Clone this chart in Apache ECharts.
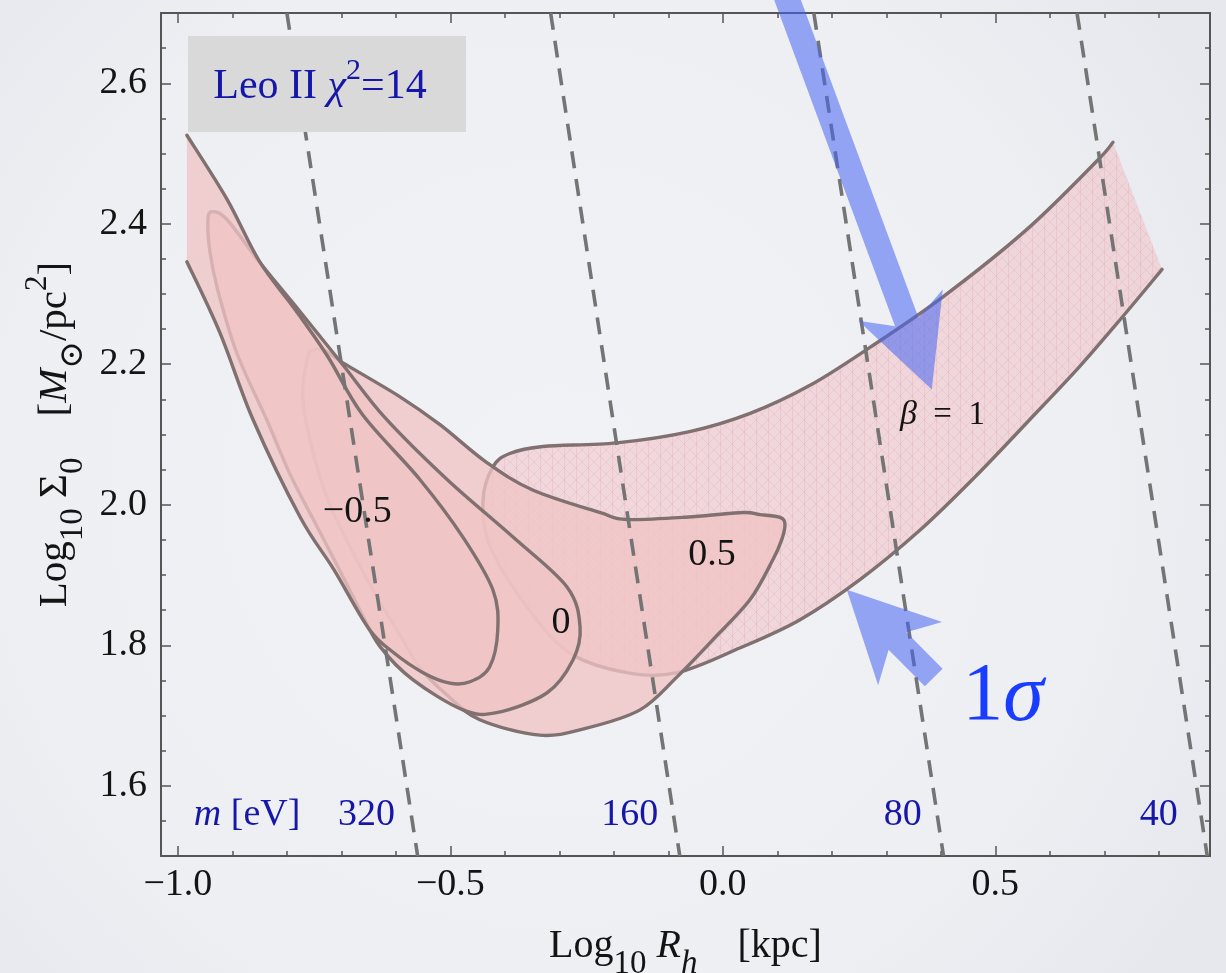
<!DOCTYPE html>
<html>
<head>
<meta charset="utf-8">
<script src="https://cdn.jsdelivr.net/npm/echarts@6/dist/echarts.min.js"></script>
<style>
  html, body { margin: 0; padding: 0; background: #eef0f4; }
  #chart { width: 1226px; height: 973px; }
</style>
</head>
<body>
<div id="chart"></div>
<script>
// ---- axes ----
const xMin = -1.031, xMax = 0.894;
const yMin = 1.5, yMax = 2.7;
const xMajorTicks = [-1.0, -0.5, 0.0, 0.5];
const xMinorTicks = [-1.0, -0.9, -0.8, -0.7, -0.6, -0.5, -0.4, -0.3, -0.2, -0.1, 0.0, 0.1, 0.2, 0.3, 0.4, 0.5, 0.6, 0.7, 0.8];
const yMajorTicks = [1.6, 1.8, 2.0, 2.2, 2.4, 2.6];
const yMinorTicks = [1.55, 1.6, 1.65, 1.7, 1.75, 1.8, 1.85, 1.9, 1.95, 2.0, 2.05, 2.1, 2.15, 2.2, 2.25, 2.3, 2.35, 2.4, 2.45, 2.5, 2.55, 2.6, 2.65];

// ---- 1σ regions in (log10 Rh, log10 Σ0), one per anisotropy β ----
// β = 1 : open along its right-hand cut (first and last point)
const regionBetaOne = [
  [0.806, 2.335], [0.734, 2.268], [0.655, 2.197], [0.563, 2.121], [0.462, 2.039],
  [0.362, 1.964], [0.251, 1.893], [0.141, 1.836], [0.031, 1.796], [-0.084, 1.761],
  [-0.176, 1.761], [-0.281, 1.789], [-0.360, 1.855], [-0.428, 1.943], [-0.440, 2.007],
  [-0.422, 2.054], [-0.391, 2.073], [-0.330, 2.083], [-0.195, 2.088], [-0.061, 2.104],
  [0.050, 2.130], [0.160, 2.170], [0.270, 2.224], [0.404, 2.296], [0.558, 2.392],
  [0.686, 2.489], [0.716, 2.516]
];
const regionBetaHalf = [
  [-0.763, 2.207], [-0.754, 2.220], [-0.730, 2.219], [-0.697, 2.202], [-0.593, 2.154],
  [-0.519, 2.114], [-0.433, 2.060], [-0.349, 2.021], [-0.226, 1.989], [-0.176, 1.979],
  [-0.055, 1.983], [0.037, 1.989], [0.068, 1.986], [0.105, 1.982], [0.114, 1.972],
  [0.108, 1.950], [0.092, 1.922], [0.050, 1.865], [-0.018, 1.808], [-0.084, 1.755],
  [-0.152, 1.708], [-0.250, 1.682], [-0.336, 1.672], [-0.446, 1.694], [-0.506, 1.729],
  [-0.556, 1.768], [-0.593, 1.815], [-0.635, 1.869], [-0.684, 1.940], [-0.727, 2.011],
  [-0.758, 2.093], [-0.771, 2.154]
];
const regionBetaZero = [
  [-0.945, 2.403], [-0.938, 2.417], [-0.910, 2.406], [-0.850, 2.345], [-0.776, 2.275],
  [-0.697, 2.199], [-0.620, 2.124], [-0.506, 2.036], [-0.385, 1.954], [-0.286, 1.883],
  [-0.262, 1.826], [-0.275, 1.779], [-0.323, 1.732], [-0.415, 1.704], [-0.477, 1.708],
  [-0.569, 1.751], [-0.629, 1.798], [-0.664, 1.847], [-0.700, 1.902], [-0.744, 1.968],
  [-0.794, 2.043], [-0.837, 2.121], [-0.892, 2.216], [-0.927, 2.306], [-0.941, 2.359]
];
// β = −0.5 : open along the left cut of the scan
const regionBetaMinusHalf = [
  [-0.9835, 2.526], [-0.910, 2.435], [-0.850, 2.346], [-0.785, 2.278], [-0.725, 2.211],
  [-0.661, 2.128], [-0.556, 2.036], [-0.477, 1.954], [-0.422, 1.879], [-0.413, 1.822],
  [-0.428, 1.769], [-0.464, 1.748], [-0.501, 1.746], [-0.550, 1.761], [-0.605, 1.790],
  [-0.650, 1.824], [-0.714, 1.908], [-0.776, 1.983], [-0.862, 2.121], [-0.923, 2.245],
  [-0.9835, 2.346]
];

// ---- lines of constant particle mass m [eV] ----
const massValues = ['320', '160', '80', '40'];
const massLineTopX = [-0.800, -0.316, 0.167, 0.650];     // at log Σ0 = 2.7
const massLineBottomX = [-0.560, -0.079, 0.405, 0.889];  // at log Σ0 = 1.5
const massLabelX = [-0.654, -0.171, 0.330, 0.800];
const massLabelY = 1.558;
const massUnitX = -0.873;

// ---- contour labels ----
const betaLabels = ['\u22120.5', '0', '0.5', '{g|\u03b2}{t|  =  1}'];
const betaLabelX = [-0.671, -0.297, -0.020, 0.403];
const betaLabelY = [1.990, 1.831, 1.928, 2.128];
const sigmaLabel = [0.514, 1.725];

// ---- pointer arrows: tail and tip ----
const arrowTail = [[0.108, 2.741], [0.387, 1.754]];
const arrowTip = [[0.3835, 2.164], [0.2275, 1.879]];

// ---- styling ----
const FONT = "'Liberation Serif', 'Times New Roman', 'DejaVu Serif', serif";
const INK = '#141414';
const AXIS = '#555555';
const EDGE = 'rgb(128,112,112)';
const NAVY = '#1616a8';
const BRIGHT = '#1a3cff';
const REGION_FILL = 'rgba(240,196,196,0.78)';
const BAND_FILL = 'rgba(240,190,195,0.5)';

const fmt = v => (v < 0 ? '\u2212' : '') + Math.abs(v).toFixed(1);

// faint triangular mesh laid over the β = 1 band
function meshTile() {
  const c = document.createElement('canvas');
  c.width = 12; c.height = 12;
  const g = c.getContext('2d');
  g.strokeStyle = 'rgba(228,150,160,0.22)';
  g.lineWidth = 1;
  g.beginPath();
  g.moveTo(0.5, 0); g.lineTo(0.5, 12);
  g.moveTo(0, 0); g.lineTo(12, 12);
  g.moveTo(12, 0); g.lineTo(0, 12);
  g.stroke();
  return c;
}
const MESH = { image: meshTile(), repeat: 'repeat' };

function xAxisDef(position, ticks, len, line, labels) {
  return {
    type: 'value', position, min: xMin, max: xMax,
    axisLine: { show: line, onZero: false, lineStyle: { color: AXIS, width: 2 } },
    axisTick: { show: true, inside: true, length: len, customValues: ticks, lineStyle: { color: AXIS, width: 1.5 } },
    axisLabel: labels ? {
      show: true, customValues: xMajorTicks, formatter: fmt, margin: 10,
      fontFamily: FONT, fontSize: 38, color: INK
    } : { show: false },
    splitLine: { show: false }, minorTick: { show: false }, minorSplitLine: { show: false }
  };
}
function yAxisDef(position, ticks, len, line, labels) {
  return {
    type: 'value', position, min: yMin, max: yMax,
    axisLine: { show: line, onZero: false, lineStyle: { color: AXIS, width: 2 } },
    axisTick: { show: true, inside: true, length: len, customValues: ticks, lineStyle: { color: AXIS, width: 1.5 } },
    axisLabel: labels ? {
      show: true, customValues: yMajorTicks, formatter: fmt, margin: 14,
      padding: [0, 0, 8, 0],
      fontFamily: FONT, fontSize: 38, color: INK
    } : { show: false },
    splitLine: { show: false }, minorTick: { show: false }, minorSplitLine: { show: false }
  };
}

// rich styles for axis titles: subscripts pushed down, superscripts up, via padding
function titleRich(size, sub) {
  return {
    m: { fontFamily: FONT, fontSize: size, lineHeight: 44, verticalAlign: 'middle', color: INK },
    i: { fontFamily: FONT, fontSize: size, lineHeight: 44, verticalAlign: 'middle', fontStyle: 'italic', color: INK },
    s: { fontFamily: FONT, fontSize: sub, lineHeight: 12, verticalAlign: 'middle', padding: [36, 0, 0, 0], color: INK },
    si: { fontFamily: FONT, fontSize: sub, lineHeight: 12, verticalAlign: 'middle', padding: [36, 0, 0, 0], fontStyle: 'italic', color: INK },
    sup: { fontFamily: FONT, fontSize: sub - 2, lineHeight: 12, verticalAlign: 'middle', padding: [0, 0, 34, 0], color: INK }
  };
}

const xAxes = [
  xAxisDef('bottom', xMajorTicks, 10, true, true),
  xAxisDef('bottom', xMinorTicks, 5, false, false),
  xAxisDef('top', xMajorTicks, 10, true, false),
  xAxisDef('top', xMinorTicks, 5, false, false)
];
Object.assign(xAxes[0], {
  name: '{m|Log}{s|10}{i| R}{si|h}{m|    [kpc]}',
  nameLocation: 'middle', nameGap: 68, nameMoveOverlap: false,
  nameTextStyle: { rich: titleRich(40, 33), fontFamily: FONT, fontSize: 40, color: INK }
});
const yAxes = [
  yAxisDef('left', yMajorTicks, 10, true, true),
  yAxisDef('left', yMinorTicks, 5, false, false),
  yAxisDef('right', yMajorTicks, 10, true, false),
  yAxisDef('right', yMinorTicks, 5, false, false)
];
Object.assign(yAxes[0], {
  name: '{m|Log}{s|10}{m| \u03a3}{s|0}{m|    [}{i|M}{s|\u2299}{m|/pc}{sup|2}{m|]}',
  nameLocation: 'middle', nameGap: 84, nameRotate: 90, nameMoveOverlap: false,
  nameTextStyle: { rich: titleRich(41, 33), fontFamily: FONT, fontSize: 41, color: INK }
});

// Catmull-Rom spline through pixel points, written as an SVG path
function splinePath(pts, closed) {
  const n = pts.length;
  const get = i => closed ? pts[(i + n) % n] : pts[Math.max(0, Math.min(n - 1, i))];
  let d = 'M' + pts[0][0].toFixed(2) + ' ' + pts[0][1].toFixed(2);
  const segs = closed ? n : n - 1;
  for (let i = 0; i < segs; i++) {
    const p0 = get(i - 1), p1 = get(i), p2 = get(i + 1), p3 = get(i + 2);
    const c1x = p1[0] + (p2[0] - p0[0]) / 6, c1y = p1[1] + (p2[1] - p0[1]) / 6;
    const c2x = p2[0] - (p3[0] - p1[0]) / 6, c2y = p2[1] - (p3[1] - p1[1]) / 6;
    d += ' C' + [c1x, c1y, c2x, c2y, p2[0], p2[1]].map(v => v.toFixed(2)).join(' ');
  }
  return d;
}

// region: translucent fill plus outline (open outlines leave the scan cut unstroked)
function regionSeries(points, fill, closed, z, mesh) {
  return {
    type: 'custom', z, clip: true, silent: true,
    xAxisIndex: 0, yAxisIndex: 0,
    data: points, encode: { x: 0, y: 1 },
    renderItem(params, api) {
      if (params.dataIndex !== 0) return null;
      const pts = points.map(p => api.coord(p));
      const curve = splinePath(pts, closed);
      const children = [
        { type: 'path', shape: { pathData: curve + ' Z' }, style: { fill, stroke: null } }
      ];
      if (mesh) {
        children.push({ type: 'path', shape: { pathData: curve + ' Z' }, style: { fill: MESH, stroke: null } });
      }
      children.push({
        type: 'path', shape: { pathData: closed ? curve + ' Z' : curve },
        style: { fill: null, stroke: EDGE, lineWidth: 3.4, lineJoin: 'round', lineCap: 'round' }
      });
      return { type: 'group', children };
    }
  };
}

const massLineSeries = massValues.map((m, i) => ({
  type: 'line', name: 'm = ' + m + ' eV', z: 10, silent: true, symbol: 'none',
  xAxisIndex: 0, yAxisIndex: 0,
  data: [[massLineTopX[i], yMax], [massLineBottomX[i], yMin]],
  lineStyle: { color: '#747474', width: 3.6, type: [17, 11] }
}));

function textSeries(items, baseStyle, rich, z) {
  return {
    type: 'custom', z, silent: true, clip: false,
    xAxisIndex: 0, yAxisIndex: 0,
    data: items.map(it => [it[0], it[1]]),
    renderItem(params, api) {
      const p = api.coord([api.value(0), api.value(1)]);
      return {
        type: 'text', x: p[0], y: p[1],
        style: Object.assign({
          text: items[params.dataIndex][2], rich,
          align: 'center', verticalAlign: 'middle', fontFamily: FONT
        }, baseStyle)
      };
    }
  };
}

const arrowSeries = {
  type: 'custom', z: 30, silent: true, clip: false,
  xAxisIndex: 0, yAxisIndex: 0,
  data: arrowTip.map((t, i) => [arrowTail[i][0], arrowTail[i][1], t[0], t[1]]),
  encode: { x: [0, 2], y: [1, 3] },
  renderItem(params, api) {
    const tail = api.coord([api.value(0), api.value(1)]);
    const tip = api.coord([api.value(2), api.value(3)]);
    const dx = tail[0] - tip[0], dy = tail[1] - tip[1];
    const L = Math.hypot(dx, dy);
    const ux = dx / L, uy = dy / L, nx = uy, ny = -ux;
    const headLen = 90, headHalf = 45, notch = 72, shaftHalf = 12.5;
    const at = (a, b) => [tip[0] + ux * a + nx * b, tip[1] + uy * a + ny * b];
    return {
      type: 'polygon',
      shape: { points: [at(0, 0), at(headLen, headHalf), at(notch, shaftHalf), at(L, shaftHalf),
                        at(L, -shaftHalf), at(notch, -shaftHalf), at(headLen, -headHalf)] },
      style: { fill: 'rgba(70,100,240,0.55)' }
    };
  }
};

const option = {
  animation: false,
  backgroundColor: {
    type: 'radial', x: 0.45, y: 0.5, r: 0.8,
    colorStops: [
      { offset: 0, color: '#f1f2f6' },
      { offset: 0.7, color: '#edeff3' },
      { offset: 1, color: '#e6e8ed' }
    ]
  },
  grid: { left: 161, right: 16, top: 13, bottom: 117, containLabel: false, outerBoundsMode: 'none' },
  xAxis: xAxes,
  yAxis: yAxes,
  graphic: [
    { type: 'rect', left: 188, top: 36, z: 40, shape: { width: 278, height: 96 }, style: { fill: '#d9d9d9' } },
    {
      type: 'text', x: 320, y: 87, z: 41,
      style: {
        text: '{n|Leo II }{g|\u03c7}{sup|2}{n|=14}',
        align: 'center', verticalAlign: 'middle', fill: NAVY,
        rich: {
          n: { fontFamily: FONT, fontSize: 42, lineHeight: 46, verticalAlign: 'middle', fill: NAVY },
          g: { fontFamily: FONT, fontSize: 42, lineHeight: 46, verticalAlign: 'middle', fontStyle: 'italic', fill: NAVY },
          sup: { fontFamily: FONT, fontSize: 30, lineHeight: 12, verticalAlign: 'middle', padding: [0, 0, 32, 0], fill: NAVY }
        }
      }
    }
  ],
  series: [
    regionSeries(regionBetaOne, BAND_FILL, false, 2, true),
    regionSeries(regionBetaHalf, REGION_FILL, true, 3, false),
    regionSeries(regionBetaZero, REGION_FILL, true, 4, false),
    regionSeries(regionBetaMinusHalf, REGION_FILL, false, 5, false),
    ...massLineSeries,
    textSeries(betaLabels.slice(0, 3).map((t, i) => [betaLabelX[i], betaLabelY[i], t]),
      { fontSize: 38, fill: INK }, {}, 20),
    textSeries([[betaLabelX[3], betaLabelY[3], betaLabels[3]]],
      { fontSize: 32, fill: INK },
      {
        g: { fontFamily: FONT, fontSize: 34, fontStyle: 'italic', fill: INK },
        t: { fontFamily: FONT, fontSize: 33, fill: INK }
      }, 20),
    textSeries(massValues.map((t, i) => [massLabelX[i], massLabelY, t])
      .concat([[massUnitX, massLabelY, '{g|m}{t| [eV]}']]),
      { fontSize: 38, fill: NAVY },
      {
        g: { fontFamily: FONT, fontSize: 38, fontStyle: 'italic', fill: NAVY },
        t: { fontFamily: FONT, fontSize: 38, fill: NAVY }
      }, 20),
    textSeries([[sigmaLabel[0], sigmaLabel[1], '{t|1}{g|\u03c3}']],
      { fontSize: 82, fill: BRIGHT },
      {
        g: { fontFamily: FONT, fontSize: 82, fontStyle: 'italic', fill: BRIGHT },
        t: { fontFamily: FONT, fontSize: 82, fill: BRIGHT }
      }, 20),
    arrowSeries
  ]
};

const chart = echarts.init(document.getElementById('chart'), null, { renderer: 'canvas' });
chart.setOption(option);
</script>
</body>
</html>
